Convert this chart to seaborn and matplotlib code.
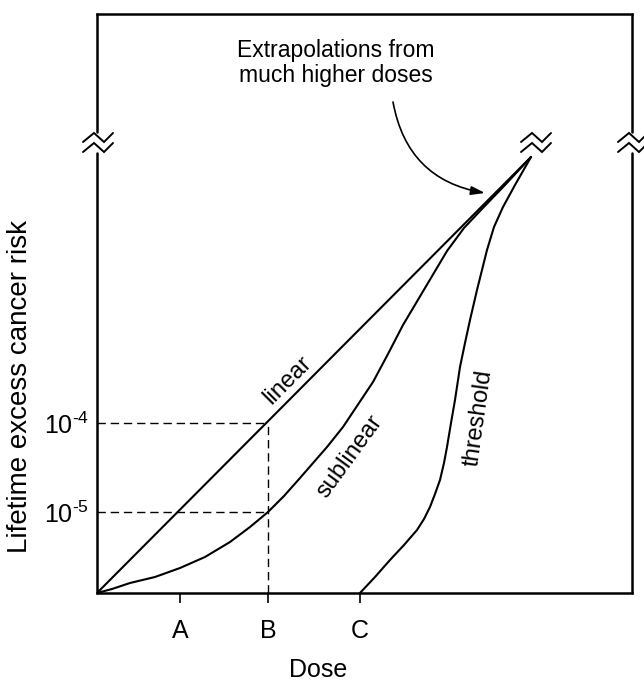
import matplotlib.pyplot as plt
import seaborn as sns
import numpy as np

# Valores (unidades arbitrarias de dosis / riesgo)
dose_ticks = [0.83, 1.71, 2.63]
dose_labels = ["A", "B", "C"]

risk_ticks = [0.81, 1.70]
risk_labels = [r"$10^{\text{-5}}$", r"$10^{\text{-4}}$"]

linear_x = [0.0, 4.34]
linear_y = [0.0, 4.36]

sublinear_x = [0.0, 0.15, 0.33, 0.58, 0.83, 1.08, 1.33, 1.53, 1.71, 1.87, 2.03, 2.30, 2.46,
               2.60, 2.76, 2.91, 3.06, 3.28, 3.50, 3.67, 3.83, 4.08, 4.34]
sublinear_y = [0.0, 0.04, 0.10, 0.16, 0.25, 0.36, 0.51, 0.66, 0.81, 0.97, 1.15, 1.46, 1.66,
               1.87, 2.11, 2.39, 2.68, 3.05, 3.42, 3.65, 3.82, 4.08, 4.36]

threshold_x = [2.63, 2.78, 2.93, 3.07, 3.20, 3.27, 3.33, 3.38, 3.43, 3.47, 3.50, 3.54, 3.58,
               3.63, 3.68, 3.73, 3.80, 3.85, 3.90, 3.97, 4.06, 4.18, 4.34]
threshold_y = [0.0, 0.16, 0.33, 0.48, 0.63, 0.74, 0.86, 0.99, 1.13, 1.30, 1.46, 1.70, 1.93,
               2.26, 2.50, 2.73, 3.03, 3.23, 3.43, 3.66, 3.86, 4.08, 4.36]

# Punto B y riesgos de referencia para las líneas punteadas
ref_dose = 1.71
ref_risks = [0.81, 1.70]

XMAX, YMAX = 5.35, 5.79
BREAK_Y = 4.51

sns.set_theme(style="white")
plt.rcParams["font.family"] = ["Liberation Sans", "DejaVu Sans"]
plt.rcParams["mathtext.fontset"] = "custom"
plt.rcParams["mathtext.rm"] = "Liberation Sans"
plt.rcParams["mathtext.it"] = "Liberation Sans:italic"
plt.rcParams["mathtext.sf"] = "Liberation Sans"
plt.rcParams["text.color"] = "black"

fig = plt.figure(figsize=(6.44, 6.83), dpi=100)
ax = fig.add_axes([97 / 644, 90 / 683, 535 / 644, 579 / 683])

# Curvas
for xs, ys in [(linear_x, linear_y), (sublinear_x, sublinear_y), (threshold_x, threshold_y)]:
    sns.lineplot(x=xs, y=ys, ax=ax, color="black", linewidth=1.5, sort=False, estimator=None)

# Líneas punteadas de referencia
dash = (0, (6, 3.5))
for r in ref_risks:
    ax.plot([0, ref_dose], [r, r], color="black", lw=1.0, linestyle=dash)
ax.plot([ref_dose, ref_dose], [0, max(ref_risks)], color="black", lw=1.0, linestyle=dash)

ax.set_xlim(0, XMAX)
ax.set_ylim(0, YMAX)

# Ejes: izquierdo y derecho con corte
for side in ["left", "right"]:
    ax.spines[side].set_visible(False)
for side in ["top", "bottom"]:
    ax.spines[side].set_linewidth(1.8)
    ax.spines[side].set_color("black")

gap_lo, gap_hi = (BREAK_Y - 0.11) / YMAX, (BREAK_Y + 0.10) / YMAX
for xv in [0, XMAX]:
    ax.axvline(xv, ymin=0, ymax=gap_lo, color="black", lw=1.8, clip_on=False)
    ax.axvline(xv, ymin=gap_hi, ymax=1, color="black", lw=1.8, clip_on=False)

# Símbolos de corte (zigzag doble)
zz_dx = np.array([-0.14, -0.03, 0.07, 0.16])
zz_dy = np.array([0.0, 0.09, 0.0, 0.09])


def zigzag(cx, cy):
    for off in [0.0, -0.10]:
        ax.plot(cx + zz_dx, cy + zz_dy + off, color="black", lw=1.4,
                clip_on=False, solid_joinstyle="miter")


zigzag(0.0, BREAK_Y)
zigzag(XMAX, BREAK_Y)
zigzag(4.38, BREAK_Y)

# Ticks
ax.set_xticks(dose_ticks, dose_labels)
ax.set_yticks(risk_ticks, risk_labels)
ax.tick_params(axis="x", bottom=True, direction="out", length=7, width=1.2,
               color="black", pad=12, labelsize=18, labelcolor="black")
ax.tick_params(axis="y", left=True, length=0, pad=6, labelsize=18, labelcolor="black")

# Etiquetas de ejes
ax.set_xlabel("Dose", fontsize=18, color="black", va="center")
ax.xaxis.set_label_coords(0.413, -0.133)
ax.set_ylabel("Lifetime excess cancer risk", fontsize=20, color="black", va="center")
ax.yaxis.set_label_coords(-0.144, 0.356)

# Rótulos de curvas
ax.text(1.91, 2.13, "linear", rotation=45, rotation_mode="anchor",
        ha="center", va="center", fontsize=17)
ax.text(2.53, 1.36, "sublinear", rotation=54, rotation_mode="anchor",
        ha="center", va="center", fontsize=17)
ax.text(3.81, 1.75, "threshold", rotation=82, rotation_mode="anchor",
        ha="center", va="center", fontsize=17)

# Anotación con flecha curva
ax.text(2.39, 5.30, "Extrapolations from\nmuch higher doses", ha="center",
        va="center", fontsize=16.5, linespacing=1.15)
ax.annotate("", xy=(3.88, 4.00), xytext=(2.96, 4.91),
            arrowprops=dict(arrowstyle="-|>,head_length=0.7,head_width=0.22",
                            connectionstyle="arc3,rad=0.35", color="black",
                            lw=1.2, shrinkA=0, shrinkB=0))

fig.savefig("out.png", dpi=100, facecolor="white")
